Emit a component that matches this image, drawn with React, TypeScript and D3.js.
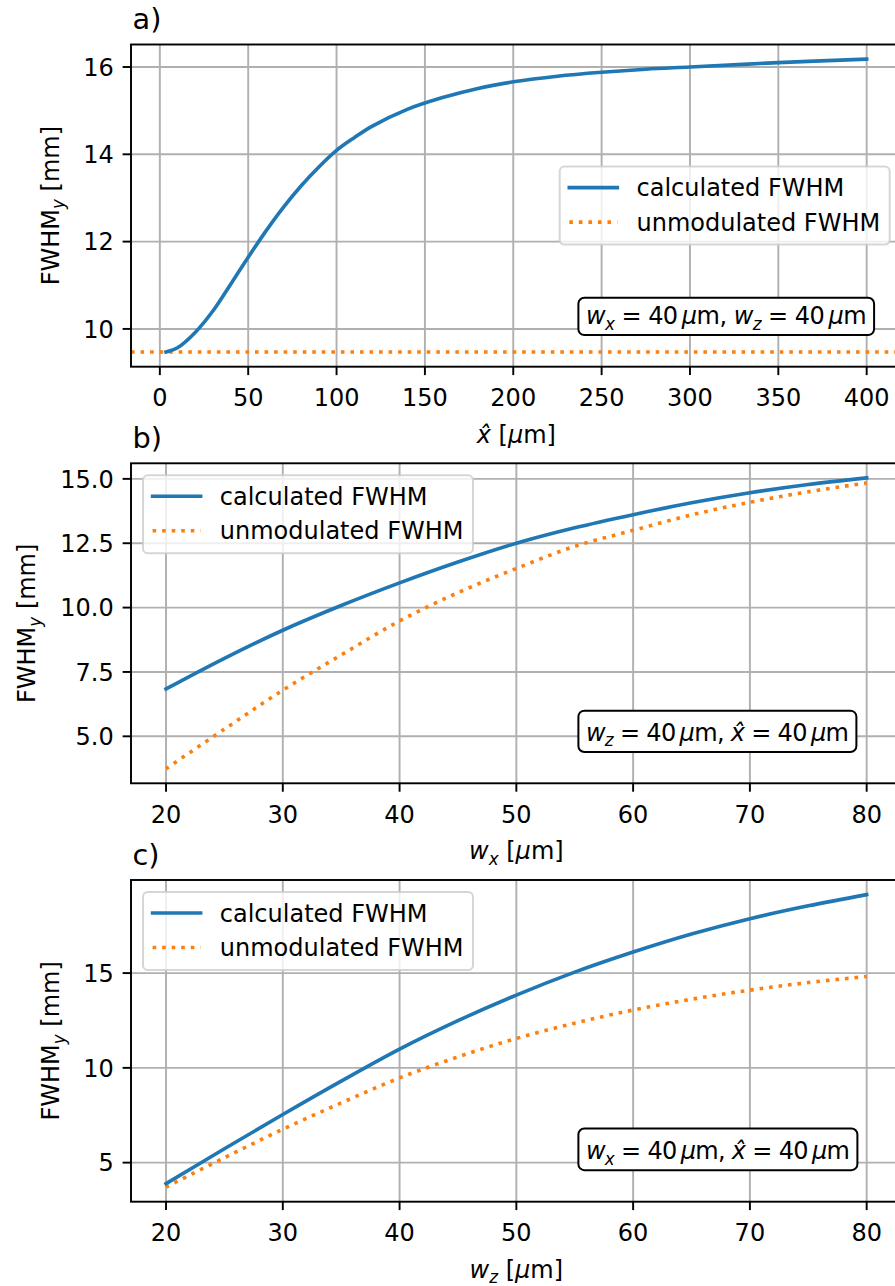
import React from 'react';
import * as d3 from 'd3';

// ---------- data ----------
const xHatA = [3.5, 10, 20, 30, 40, 50, 60, 70, 80, 90, 100, 110, 120, 140, 160, 180, 200, 225, 250, 275, 300, 350, 400];
const fwhmA = [9.47, 9.57, 9.92, 10.41, 11.02, 11.64, 12.24, 12.79, 13.28, 13.71, 14.09, 14.38, 14.64, 15.03, 15.3, 15.51, 15.66, 15.79, 15.88, 15.95, 16.0, 16.1, 16.18];
const unmodA = 9.47;
const xTicksA = [0, 50, 100, 150, 200, 250, 300, 350, 400];
const yTicksA = [10, 12, 14, 16];

const wX = [20, 25, 30, 35, 40, 45, 50, 55, 60, 65, 70, 75, 80];
const fwhmB = [6.84, 8.03, 9.12, 10.08, 10.96, 11.77, 12.5, 13.1, 13.61, 14.07, 14.46, 14.78, 15.04];
const unmodB = [3.74, 5.28, 6.79, 8.16, 9.48, 10.58, 11.52, 12.38, 13.0, 13.6, 14.09, 14.5, 14.84];
const yTicksB = [5, 7.5, 10, 12.5, 15];

const wZ = [20, 25, 30, 35, 40, 45, 50, 55, 60, 65, 70, 75, 80];
const fwhmC = [3.89, 5.73, 7.54, 9.3, 10.99, 12.49, 13.84, 15.05, 16.11, 17.06, 17.87, 18.55, 19.14];
const unmodC = [3.71, 5.26, 6.76, 8.15, 9.47, 10.58, 11.55, 12.36, 13.05, 13.62, 14.1, 14.5, 14.82];
const yTicksC = [5, 10, 15];

const xTicksW = [20, 30, 40, 50, 60, 70, 80];
const legendLabels = ['calculated FWHM', 'unmodulated FWHM'];
const panelTitles = ['a)', 'b)', 'c)'];

// ---------- style ----------
const BLUE = '#1f77b4';
const ORANGE = '#ff7f0e';
const FONT = '"DejaVu Sans", sans-serif';
const PT = 2.4;
const FS = 24;
const LW = 1.5 * PT;
const AXW = 0.8 * PT;
const TICK = 3.5 * PT;
const LEFT = 131;
const RIGHT = 901.7;

type Part = { t: string; it?: boolean; sub?: boolean };

function mathSpans(parts: Part[], fs: number) {
  let shift = 0;
  return parts.map((p, i) => {
    const target = p.sub ? fs * 0.23 : 0;
    const dy = target - shift;
    shift = target;
    return (
      <tspan key={i} dy={dy} fontStyle={p.it ? 'italic' : 'normal'} fontSize={p.sub ? fs * 0.7 : fs}>
        {p.t}
      </tspan>
    );
  });
}

const pad = (lo: number, hi: number) => {
  const d = (hi - lo) * 0.05;
  return [lo - d, hi + d];
};

type PanelCfg = {
  top: number;
  bottom: number;
  title: string;
  xs: number[];
  calc: number[];
  unmod: number[] | number;
  xTicks: number[];
  yTicks: number[];
  yFmt: (v: number) => string;
  xLabel: Part[];
  yLabelX: number;
  legend: 'right' | 'upperleft';
  note: Part[];
  noteW: number;
  noteH: number;
};

const panels: PanelCfg[] = [
  {
    top: 44.5, bottom: 366.7, title: panelTitles[0], xs: xHatA, calc: fwhmA, unmod: unmodA,
    xTicks: xTicksA, yTicks: yTicksA, yFmt: (v) => String(v),
    xLabel: [{ t: 'x\u0302', it: true }, { t: ' [' }, { t: 'μ', it: true }, { t: 'm]' }],
    yLabelX: 58.5, legend: 'right',
    note: [{ t: 'w', it: true }, { t: 'x', it: true, sub: true }, { t: ' = 40\u2009' }, { t: 'μ', it: true }, { t: 'm, ' },
      { t: 'w', it: true }, { t: 'z', it: true, sub: true }, { t: ' = 40\u2009' }, { t: 'μ', it: true }, { t: 'm' }],
    noteW: 295.7, noteH: 37.3,
  },
  {
    top: 463.3, bottom: 783.3, title: panelTitles[1], xs: wX, calc: fwhmB, unmod: unmodB,
    xTicks: xTicksW, yTicks: yTicksB, yFmt: (v) => v.toFixed(1),
    xLabel: [{ t: 'w', it: true }, { t: 'x', it: true, sub: true }, { t: ' [' }, { t: 'μ', it: true }, { t: 'm]' }],
    yLabelX: 35, legend: 'upperleft',
    note: [{ t: 'w', it: true }, { t: 'z', it: true, sub: true }, { t: ' = 40\u2009' }, { t: 'μ', it: true }, { t: 'm, ' },
      { t: 'x\u0302', it: true }, { t: ' = 40\u2009' }, { t: 'μ', it: true }, { t: 'm' }],
    noteW: 278, noteH: 41.3,
  },
  {
    top: 880, bottom: 1201.7, title: panelTitles[2], xs: wZ, calc: fwhmC, unmod: unmodC,
    xTicks: xTicksW, yTicks: yTicksC, yFmt: (v) => String(v),
    xLabel: [{ t: 'w', it: true }, { t: 'z', it: true, sub: true }, { t: ' [' }, { t: 'μ', it: true }, { t: 'm]' }],
    yLabelX: 59, legend: 'upperleft',
    note: [{ t: 'w', it: true }, { t: 'x', it: true, sub: true }, { t: ' = 40\u2009' }, { t: 'μ', it: true }, { t: 'm, ' },
      { t: 'x\u0302', it: true }, { t: ' = 40\u2009' }, { t: 'μ', it: true }, { t: 'm' }],
    noteW: 279, noteH: 41.7,
  },
];

function Panel({ cfg, idx }: { cfg: PanelCfg; idx: number }) {
  const xDom = pad(d3.min(cfg.xs)!, d3.max(cfg.xs)!);
  const allY = typeof cfg.unmod === 'number' ? [...cfg.calc, cfg.unmod] : [...cfg.calc, ...cfg.unmod];
  const yDom = pad(d3.min(allY)!, d3.max(allY)!);
  const x = d3.scaleLinear().domain(xDom).range([LEFT, RIGHT]);
  const y = d3.scaleLinear().domain(yDom).range([cfg.bottom, cfg.top]);
  const line = d3
    .line<number>()
    .x((_, i) => x(cfg.xs[i]))
    .y((d) => y(d))
    .curve(d3.curveCatmullRom.alpha(0.5));
  const calcPath = line(cfg.calc) || '';
  let unmodPath = '';
  if (typeof cfg.unmod === 'number') {
    const u = cfg.unmod;
    unmodPath = d3.line<number>().x((d) => x(d)).y(() => y(u))(xDom) || '';
  } else {
    unmodPath = line(cfg.unmod) || '';
  }
  const axH = cfg.bottom - cfg.top;
  const axW = RIGHT - LEFT;

  // legend geometry
  const legW = 330;
  const legH = 78;
  const legX = cfg.legend === 'right' ? RIGHT - 12 - legW : LEFT + 12;
  const legY = cfg.legend === 'right' ? (cfg.top + cfg.bottom) / 2 - legH / 2 : cfg.top + 12;
  const row0 = legY + 21;
  const rowGap = 34.5;

  // annotation geometry
  const noteX = LEFT + 0.5805 * axW;
  const noteBottom = cfg.bottom - 0.098 * axH;
  const noteTop = noteBottom - cfg.noteH;

  return (
    <g>
      <defs>
        <clipPath id={`clip${idx}`}>
          <rect x={LEFT} y={cfg.top} width={axW} height={axH} />
        </clipPath>
      </defs>
      {/* grid */}
      <g stroke="#b0b0b0" strokeWidth={AXW}>
        {cfg.xTicks.map((t) => (
          <line key={'gx' + t} x1={x(t)} x2={x(t)} y1={cfg.top} y2={cfg.bottom} />
        ))}
        {cfg.yTicks.map((t) => (
          <line key={'gy' + t} x1={LEFT} x2={RIGHT} y1={y(t)} y2={y(t)} />
        ))}
      </g>
      {/* data lines */}
      <g clipPath={`url(#clip${idx})`} fill="none">
        <path d={unmodPath} stroke={ORANGE} strokeWidth={LW} strokeDasharray={`${LW} ${1.65 * LW}`} />
        <path d={calcPath} stroke={BLUE} strokeWidth={LW} strokeLinecap="square" strokeLinejoin="round" />
      </g>
      {/* spines */}
      <rect x={LEFT} y={cfg.top} width={axW} height={axH} fill="none" stroke="#000" strokeWidth={AXW} />
      {/* ticks */}
      <g stroke="#000" strokeWidth={AXW}>
        {cfg.xTicks.map((t) => (
          <line key={'tx' + t} x1={x(t)} x2={x(t)} y1={cfg.bottom} y2={cfg.bottom + TICK} />
        ))}
        {cfg.yTicks.map((t) => (
          <line key={'ty' + t} x1={LEFT - TICK} x2={LEFT} y1={y(t)} y2={y(t)} />
        ))}
      </g>
      <g fontSize={FS} fill="#000">
        {cfg.xTicks.map((t) => (
          <text key={'lx' + t} x={x(t)} y={cfg.bottom + 39.5} textAnchor="middle">
            {String(t)}
          </text>
        ))}
        {cfg.yTicks.map((t) => (
          <text key={'ly' + t} x={LEFT - 2 * TICK - 0.5} y={y(t) + 8.7} textAnchor="end">
            {cfg.yFmt(t)}
          </text>
        ))}
      </g>
      {/* title */}
      <text x={LEFT + 1.5} y={cfg.top - 15.5} fontSize={FS * 1.2}>
        {cfg.title}
      </text>
      {/* axis labels */}
      <text x={(LEFT + RIGHT) / 2} y={cfg.bottom + 76} textAnchor="middle" fontSize={FS} style={{ whiteSpace: 'pre' }}>
        {mathSpans(cfg.xLabel, FS)}
      </text>
      <text
        transform={`translate(${cfg.yLabelX},${(cfg.top + cfg.bottom) / 2}) rotate(-90)`}
        textAnchor="middle"
        fontSize={FS}
        style={{ whiteSpace: 'pre' }}
      >
        {mathSpans([{ t: 'FWHM' }, { t: 'y', it: true, sub: true }, { t: ' [mm]' }], FS)}
      </text>
      {/* annotation */}
      <rect x={noteX} y={noteTop} width={cfg.noteW} height={cfg.noteH} rx={6} ry={6} fill="#fff" stroke="#000" strokeWidth={2} />
      <text
        x={noteX + 7.5}
        y={noteBottom - 11}
        fontSize={FS}
        style={{ whiteSpace: 'pre' }}
        textLength={cfg.noteW - 15}
        lengthAdjust="spacing"
      >
        {mathSpans(cfg.note, FS)}
      </text>
      {/* legend */}
      <rect x={legX} y={legY} width={legW} height={legH} rx={4.8} ry={4.8} fill="#fff" fillOpacity={0.8} stroke="#cccccc" strokeOpacity={0.8} strokeWidth={2} />
      <line x1={legX + 9.6} x2={legX + 9.6 + 48} y1={row0} y2={row0} stroke={BLUE} strokeWidth={LW} strokeLinecap="square" />
      <line x1={legX + 9.6} x2={legX + 9.6 + 48} y1={row0 + rowGap} y2={row0 + rowGap} stroke={ORANGE} strokeWidth={LW} strokeDasharray={`${LW} ${1.65 * LW}`} />
      {legendLabels.map((l, i) => (
        <text key={l} x={legX + 9.6 + 48 + 19.2} y={row0 + i * rowGap + 8.5} fontSize={FS}>
          {l}
        </text>
      ))}
    </g>
  );
}

export default function App() {
  return (
    <svg
      width={895}
      height={1286}
      style={{ position: 'absolute', left: 0, top: 0, background: '#fff' }}
      fontFamily={FONT}
    >
      <rect x={0} y={0} width={895} height={1286} fill="#fff" />
      {panels.map((p, i) => (
        <Panel key={i} cfg={p} idx={i} />
      ))}
    </svg>
  );
}
